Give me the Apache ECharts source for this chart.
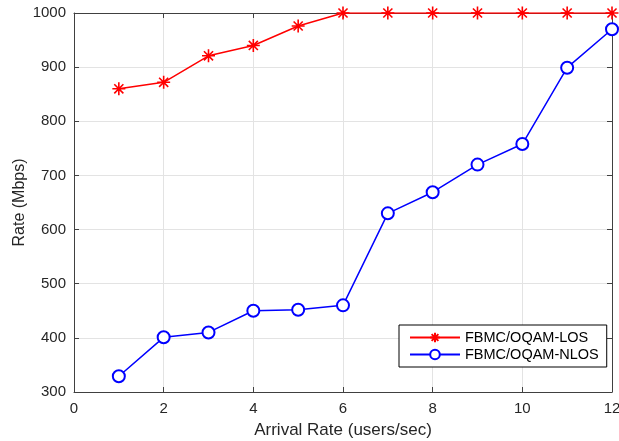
<!DOCTYPE html>
<html>
<head>
<meta charset="utf-8">
<script src="https://cdn.jsdelivr.net/npm/echarts@6/dist/echarts.min.js"></script>
<style>
  html, body { margin: 0; padding: 0; background: #fff; }
  #chart { width: 619px; height: 441px; }
</style>
</head>
<body>
<div id="chart"></div>
<script>
// arrival rate (users/sec)
var arrivalRate = [1, 2, 3, 4, 5, 6, 7, 8, 9, 10, 11, 12]
// rate in Mbps
var losRate = [860, 872, 921, 940, 976, 1000, 1000, 1000, 1000, 1000, 1000, 1000]
var nlosRate = [329, 401, 410, 450, 452, 460, 630, 669, 720, 758, 899, 970]

var seriesNames = ['FBMC/OQAM-LOS', 'FBMC/OQAM-NLOS']

var star = 'path://M0,-10L0,10M-10,0L10,0M-7,-7L7,7M-7,7L7,-7'
var font = 'Liberation Sans, Arial, sans-serif'
var axisColor = '#404040'

function pairs(xs, ys) {
  return xs.map(function (x, i) { return [x, ys[i]] })
}

var chart = echarts.init(document.getElementById('chart'))

var baseX = {
  type: 'value',
  min: 0,
  max: 12,
  interval: 2,
  axisLine: { show: true, onZero: false, lineStyle: { color: axisColor, width: 1 } },
  axisTick: { show: true, inside: true, length: 5, lineStyle: { color: axisColor } },
  splitLine: { show: false }
}
var baseY = {
  type: 'value',
  min: 300,
  max: 1000,
  interval: 100,
  axisLine: { show: true, onZero: false, lineStyle: { color: axisColor, width: 1 } },
  axisTick: { show: true, inside: true, length: 5, lineStyle: { color: axisColor } },
  splitLine: { show: false }
}

chart.setOption({
  animation: false,
  textStyle: { fontFamily: font },
  grid: { left: 74, right: 7, top: 13, bottom: 49, containLabel: false, outerBoundsMode: 'none' },
  legend: {
    data: seriesNames,
    orient: 'vertical',
    left: 399,
    top: 325,
    padding: [4, 8, 4, 10],
    itemGap: 0,
    itemWidth: 50,
    itemHeight: 12,
    borderColor: '#000',
    borderWidth: 1,
    backgroundColor: '#fff',
    textStyle: { fontFamily: font, fontSize: 14.5, lineHeight: 17, color: '#000' }
  },
  xAxis: [
    Object.assign({}, baseX, {
      position: 'bottom',
      name: 'Arrival Rate (users/sec)',
      nameLocation: 'middle',
      nameGap: 30,
      nameTextStyle: { fontFamily: font, fontSize: 17, color: '#262626' },
      axisLabel: { fontFamily: font, fontSize: 15, color: '#262626', margin: 9 },
      splitLine: { show: true, lineStyle: { color: '#e3e3e3', width: 1 } }
    }),
    Object.assign({}, baseX, { position: 'top', axisLabel: { show: false } })
  ],
  yAxis: [
    Object.assign({}, baseY, {
      position: 'left',
      name: 'Rate (Mbps)',
      nameLocation: 'middle',
      nameGap: 46,
      nameMoveOverlap: false,
      nameTextStyle: { fontFamily: font, fontSize: 16, color: '#262626' },
      axisLabel: {
        fontFamily: font, fontSize: 15, color: '#262626', margin: 8,
        formatter: function (v) { return String(v) }
      },
      splitLine: { show: true, lineStyle: { color: '#e3e3e3', width: 1 } }
    }),
    Object.assign({}, baseY, { position: 'right', axisLabel: { show: false } })
  ],
  series: [
    {
      name: seriesNames[0],
      type: 'line',
      data: pairs(arrivalRate, losRate),
      symbol: star,
      symbolSize: 13,
      showAllSymbol: true,
      lineStyle: { color: '#ff0000', width: 1.5 },
      itemStyle: { color: '#ff0000', borderColor: '#ff0000', borderWidth: 1.6 },
      z: 3
    },
    {
      name: seriesNames[1],
      type: 'line',
      data: pairs(arrivalRate, nlosRate),
      symbol: 'emptyCircle',
      symbolSize: 12,
      showAllSymbol: true,
      lineStyle: { color: '#0000ff', width: 1.5 },
      itemStyle: { color: '#0000ff', borderColor: '#0000ff', borderWidth: 1.6 },
      z: 2
    }
  ]
})
</script>
</body>
</html>
